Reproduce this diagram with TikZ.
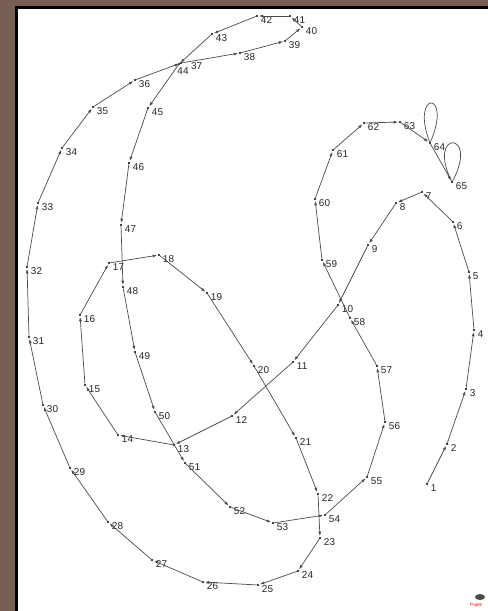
\documentclass[tikz,border=0pt]{standalone}
\usepackage{fontspec}
\setmainfont{Liberation Sans}
\usetikzlibrary{arrows.meta}
\definecolor{framebrown}{RGB}{121,94,84}
\tikzset{
  vtx/.style={circle, fill=black, inner sep=0pt, minimum size=1.8pt},
  vlbl/.style={font=\fontsize{8.5}{9}\selectfont, inner sep=0pt, text=black!85, anchor=west},
  arc/.style={-{Latex[length=1.3mm,width=0.9mm]}, line width=0.6pt, draw=black!70, shorten >=0.6pt},
  loopline/.style={line width=0.6pt, draw=black!70},
}

\begin{document}
\begin{tikzpicture}[x=0.03cm, y=-0.03cm]
  \clip (0,0) rectangle (488,611);
  % frame
  \fill[framebrown] (0,0) rectangle (488,611);
  \fill[black] (15,6) rectangle (488,611);
  \fill[white] (18,9) rectangle (488,611);
  % vertices
  \foreach \n/\x/\y in {
      1/427/484, 2/447/444, 3/466/389, 4/474/330, 5/469/272,
      6/453/222, 7/422/192, 8/396/203, 9/368/245, 10/338/305,
      11/293/362, 12/232/416, 13/174/445, 14/118/435, 15/85/385,
      16/80/315, 17/109/263, 18/159/255, 19/207/293, 20/254/366,
      21/296/438, 22/318/494, 23/320/538, 24/298/571, 25/258/585,
      26/203/582, 27/152/560, 28/108/522, 29/70/468, 30/43/405,
      31/29/337, 32/27/267, 33/38/203, 34/62/148, 35/93/107,
      36/135/80, 38/240/53, 39/285/41, 40/302/27,
      41/290/16, 42/257/16, 43/212/34, 45/148/108,
      46/129/163, 47/121/225, 48/123/287, 49/135/352, 50/155/412,
      51/185/463, 52/230/507, 53/273/523, 54/325/515, 55/367/477,
      56/385/422, 57/377/366, 58/350/318, 59/322/260, 60/315/199,
      61/333/150, 62/364/123, 63/400/122, 64/430/143, 65/452/182}{
    \node[vtx] (v\n) at (\x,\y) {};
    \node[vlbl] (l\n) at ([xshift=3.2pt, yshift=-3.3pt]v\n.center) {\n};
  }
  \node[vtx] (v37) at (181,63) {};
  \node[vlbl] (l37) at ([xshift=8.5pt, yshift=-3pt]v37.center) {37};
  \node[vtx] (v44) at (179,64) {};
  \node[vlbl] (l44) at ([xshift=-1.5pt, yshift=-5.8pt]v44.center) {44};
  % arcs
  \foreach \a in {1,...,64}{
    \pgfmathtruncatemacro\b{\a+1}
    \draw[arc] (v\a) -- (v\b);
  }
  % loops
  \draw[loopline] (v64) .. controls (410,90) and (453,90) .. (v64);
  \draw[loopline] (v65) .. controls (426,130) and (480,130) .. (v65);
  % logo
  \fill[black!70] (480,597) ellipse (5 and 3);
  \node[font=\fontsize{4}{4}\selectfont, text=red, anchor=west, inner sep=0pt] (pajek) at (470,605) {Pajek};
\end{tikzpicture}
\end{document}
